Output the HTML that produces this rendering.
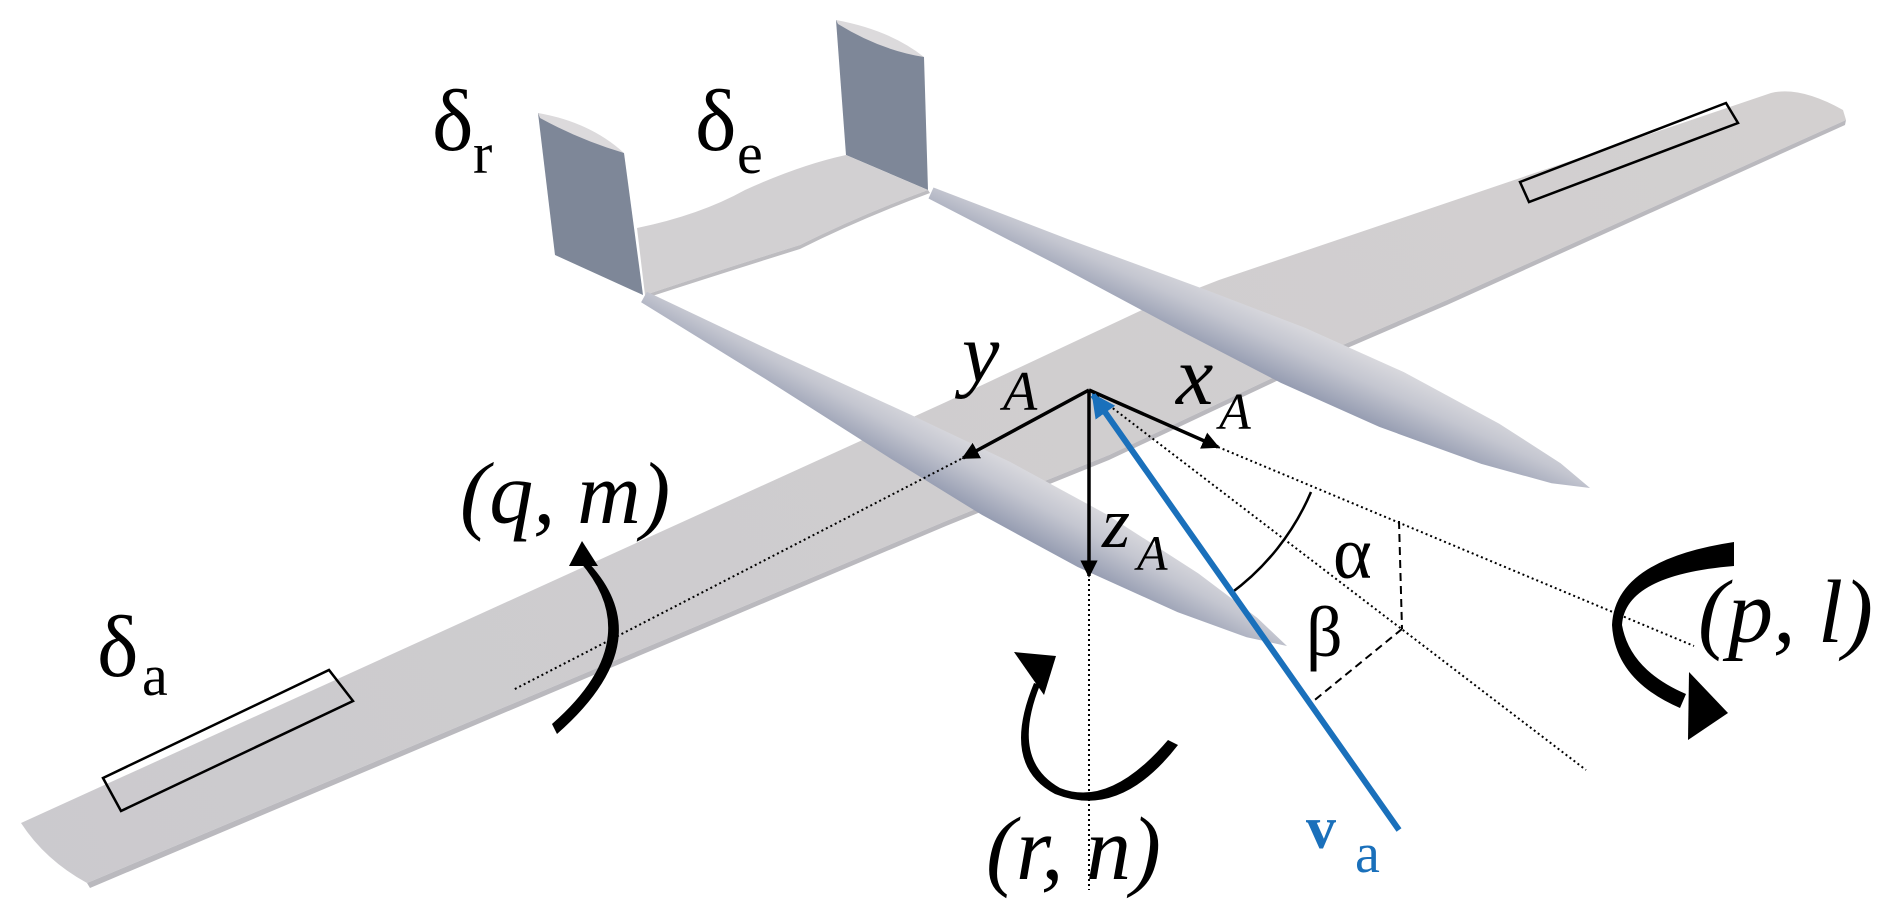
<!DOCTYPE html>
<html><head><meta charset="utf-8"><style>
html,body{margin:0;padding:0;background:#fff;}
svg{display:block;}
</style></head><body>
<svg width="1892" height="914" viewBox="0 0 1892 914" xmlns="http://www.w3.org/2000/svg">
<defs>
<linearGradient id="lb" gradientUnits="userSpaceOnUse" x1="981" y1="515" x2="1010" y2="462">
<stop offset="0" stop-color="#959cb1"/><stop offset="0.6" stop-color="#c4c6d0"/><stop offset="1" stop-color="#d8d8dd"/></linearGradient>
<linearGradient id="rb" gradientUnits="userSpaceOnUse" x1="1280" y1="383" x2="1305" y2="328">
<stop offset="0" stop-color="#959cb1"/><stop offset="0.6" stop-color="#c4c6d0"/><stop offset="1" stop-color="#d8d8dd"/></linearGradient>
<linearGradient id="wg" gradientUnits="userSpaceOnUse" x1="0" y1="900" x2="1800" y2="100">
<stop offset="0" stop-color="#cbcace"/><stop offset="1" stop-color="#d3d0d0"/></linearGradient>
<marker id="ah" viewBox="0 0 10 10" refX="9" refY="5" markerWidth="5" markerHeight="5" orient="auto"><path d="M0,0 L10,5 L0,10 z" fill="#000"/></marker>
<marker id="bh" viewBox="0 0 10 10" refX="9" refY="5" markerWidth="4" markerHeight="4" orient="auto"><path d="M0,0 L10,5 L0,10 z" fill="#1a70bb"/></marker>
</defs>

<path d="M836,20 L924,57 L928,190 L846,155 Z" fill="#7e8798"/>
<path d="M836,20 Q890,30 924,57 Q880,50 838,24 Z" fill="#dcdadc"/>
<path d="M637,228 Q700,215 745,190 Q800,165 846,155 L928,190 Q860,215 800,245 Q720,270 645,295 Z" fill="#d2d0d2"/>
<path d="M645,295 Q720,270 800,245 Q860,215 928,190 L930,193 Q860,219 800,249 Q720,274 646,298 Z" fill="#bdbcc0"/>
<path d="M538,113 L624,153 L643,295 L555,255 Z" fill="#7e8798"/>
<path d="M538,113 Q590,122 624,153 Q580,140 540,118 Z" fill="#dcdadc"/>

<path d="M21,823 L946,402 L1142,310 L1219,280 L1771,93 Q1800,86 1843,110 L1846,120 L1447,300 L1338,347 L1109,455 L946,521 L87,883 Q45,860 21,823 Z" fill="url(#wg)"/>
<path d="M87,883 L946,521 L1109,455 L1338,347 L1447,300 L1846,120 L1845,125 L1447,305 L1338,352 L1109,460 L946,526 L90,888 Z" fill="#bab9be"/>

<path d="M641.1,302.3 L765.3,378.9 L888.5,457.3 L981.7,514.8 L1077.7,567 L1177.5,612.1 L1246.7,637.3 L1287,646 L1257.3,617.9 L1198.5,573.5 L1106.3,514.2 L1010.3,462 L911.5,415.1 L778.7,354.3 L646.9,291.7 Z" fill="url(#lb)"/>
<path d="M928.5,198.5 L1056.9,264.8 L1184.4,332.9 L1280.6,382.7 L1379.3,426.9 L1481.3,463.9 L1551.6,483.3 L1590,488 L1560.6,463.3 L1499.3,423.7 L1403.9,372.1 L1305.2,327.9 L1204,289.1 L1068.3,239.2 L933.5,187.5 Z" fill="url(#rb)"/>

<polygon points="103,778 329,670 353,701 121,811" fill="none" stroke="#000" stroke-width="2.5"/>
<polygon points="1520,182 1726,103 1738,123 1529,202" fill="none" stroke="#000" stroke-width="2.5"/>

<g stroke="#000" stroke-width="2" stroke-dasharray="2,3" fill="none">
<line x1="961" y1="459" x2="513" y2="690"/>
<line x1="1218" y1="447" x2="1694" y2="646"/>
<line x1="1089" y1="390" x2="1586" y2="770"/>
<line x1="1089" y1="574" x2="1089" y2="890"/>
</g>
<g stroke="#000" stroke-width="2" stroke-dasharray="8,5" fill="none">
<line x1="1399" y1="521" x2="1402" y2="629"/>
<line x1="1402" y1="629" x2="1311" y2="703"/>
</g>
<path d="M1311,492 A245,245 0 0 1 1230,594" fill="none" stroke="#000" stroke-width="2.5"/>

<g stroke="#000" stroke-width="3.5" fill="none">
<line x1="1089" y1="390" x2="963" y2="458" marker-end="url(#ah)"/>
<line x1="1089" y1="390" x2="1218" y2="447" marker-end="url(#ah)"/>
<line x1="1089" y1="390" x2="1089" y2="576" marker-end="url(#ah)"/>
</g>
<line x1="1399" y1="830" x2="1093" y2="395" stroke="#1a70bb" stroke-width="6" marker-end="url(#bh)"/>

<path d="M580,562 Q648,640 552,724 L557,734 Q664,640 586,560 Z" fill="#000"/>
<path d="M582,541 L569,566 L598,566 Z" fill="#000"/>
<path d="M1040,685 Q1010,760 1060,788 Q1110,808 1168,740 L1178,745 Q1120,820 1055,794 Q1000,765 1034,683 Z" fill="#000"/>
<path d="M1014,652 L1056,656 L1044,695 Z" fill="#000"/>
<path d="M1734,542 Q1615,560 1612,625 Q1615,680 1680,708 L1686,694 Q1630,670 1622,625 Q1625,575 1734,566 Z" fill="#000"/>
<path d="M1728,713 L1689,672 L1688,740 Z" fill="#000"/>

<g style="font-family:'Liberation Serif','Noto Serif CJK SC','DejaVu Serif',serif" fill="#000">
<text x="432" y="150" font-size="88">δ</text><text x="473" y="173" font-size="58">r</text>
<text x="695" y="150" font-size="88">δ</text><text x="737" y="173" font-size="58">e</text>
<text x="97" y="676" font-size="88">δ</text><text x="142" y="695" font-size="58">a</text>
<text x="460" y="523" font-size="88" font-style="italic">(q, m)</text>
<text x="1698" y="642" font-size="90" font-style="italic">(p, l)</text>
<text x="986" y="879" font-size="90" font-style="italic">(r, n)</text>
<text x="962" y="381" font-size="84" font-style="italic">y</text><text x="1003" y="410" font-size="56" font-style="italic">A</text>
<text x="1176" y="404" font-size="84" font-style="italic">x</text><text x="1219" y="429" font-size="52" font-style="italic">A</text>
<text x="1102" y="547" font-size="72" font-style="italic">z</text><text x="1137" y="570" font-size="50" font-style="italic">A</text>
<text x="1333" y="578" font-size="74">α</text>
<text x="1306" y="656" font-size="72">β</text>
<text x="1306" y="848" font-size="60" font-weight="bold" fill="#1a70bb">v</text>
<text x="1355" y="872" font-size="56" fill="#1a70bb">a</text>
</g>
</svg>
</body></html>
